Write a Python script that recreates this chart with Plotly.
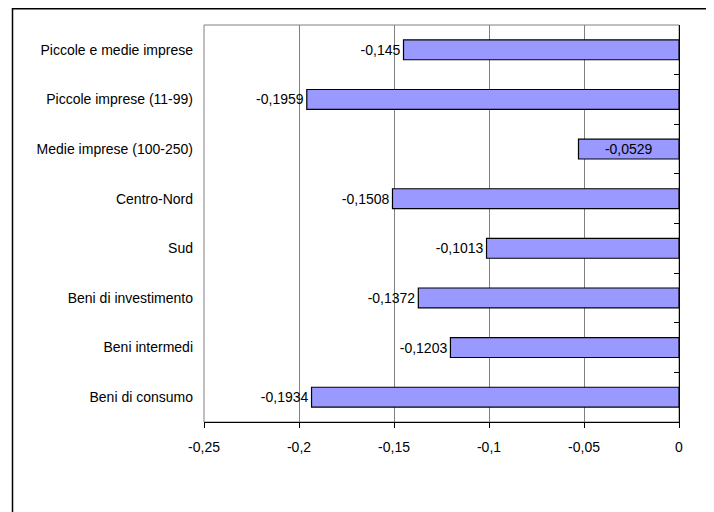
import plotly.graph_objects as go

categories = [
    "Piccole e medie imprese",
    "Piccole imprese (11-99)",
    "Medie imprese (100-250)",
    "Centro-Nord",
    "Sud",
    "Beni di investimento",
    "Beni intermedi",
    "Beni di consumo",
]
values = [-0.145, -0.1959, -0.0529, -0.1508, -0.1013, -0.1372, -0.1203, -0.1934]
x_ticks = [-0.25, -0.2, -0.15, -0.1, -0.05, 0]
x_tick_labels = ["-0,25", "-0,2", "-0,15", "-0,1", "-0,05", "0"]

labels = [str(v).replace(".", ",") for v in values]
positions = ["inside" if v > -0.08 else "outside" for v in values]

# the page body has an 8px default margin, so the figure is sized to fit
OFF = 8
W, H = 714 - OFF, 512 - OFF
ml, mt = 204 - OFF, 25 - OFF
mr = W - (679 - OFF)
mb = H - (422 - OFF)
pw = W - ml - mr
ph = H - mt - mb

fig = go.Figure()
fig.add_trace(go.Bar(
    x=values, y=categories, orientation="h",
    width=0.4,
    marker=dict(color="#9999FF", line=dict(color="black", width=1.2)),
    text=labels, textposition=positions, insidetextanchor="middle",
    textfont=dict(color="black", size=14, family="Liberation Sans, Arial"),
    constraintext="none", cliponaxis=False, textangle=0,
    showlegend=False, hoverinfo="x+y",
))
# invisible helper trace to anchor the right-hand category axis
fig.add_trace(go.Scatter(
    x=values, y=list(range(len(values))), yaxis="y2",
    mode="markers", marker=dict(opacity=0), showlegend=False, hoverinfo="skip",
))

n = len(categories)
fig.update_layout(
    width=W, height=H,
    margin=dict(l=ml, r=mr, t=mt, b=mb),
    paper_bgcolor="white", plot_bgcolor="white",
    font=dict(family="Liberation Sans, Arial", size=14, color="black"),
    xaxis=dict(
        range=[-0.25, 0], tickvals=x_ticks, ticktext=x_tick_labels,
        ticks="outside", ticklen=5, tickcolor="black", tickwidth=1,
        showline=True, linecolor="black", linewidth=1,
        showgrid=True, gridcolor="#808080", gridwidth=1,
        zeroline=False, ticklabelstandoff=7,
        tickfont=dict(size=14),
    ),
    yaxis=dict(
        type="category", categoryorder="array", categoryarray=categories,
        range=[n - 0.5, -0.5], ticks="", showline=False, showgrid=False,
        zeroline=False, ticklabelstandoff=10, tickfont=dict(size=14),
    ),
    yaxis2=dict(
        overlaying="y", side="right", range=[n - 0.5, -0.5],
        tickvals=[i - 0.5 for i in range(n + 1)],
        ticks="inside", ticklen=5, tickcolor="black",
        showticklabels=False, showline=True, linecolor="black", linewidth=1,
        showgrid=False, zeroline=False,
    ),
    shapes=[
        dict(type="rect", xref="paper", yref="paper", x0=0, x1=1, y0=0, y1=1,
             line=dict(color="#808080", width=1), layer="below"),
        dict(type="rect", xref="paper", yref="paper",
             x0=(12.5 - 204) / pw, x1=(712 - 204) / pw,
             y0=(422 - (512 + 10)) / ph, y1=(422 - 8.8) / ph,
             line=dict(color="black", width=1.5)),
    ],
)

fig.write_html("out.html")
